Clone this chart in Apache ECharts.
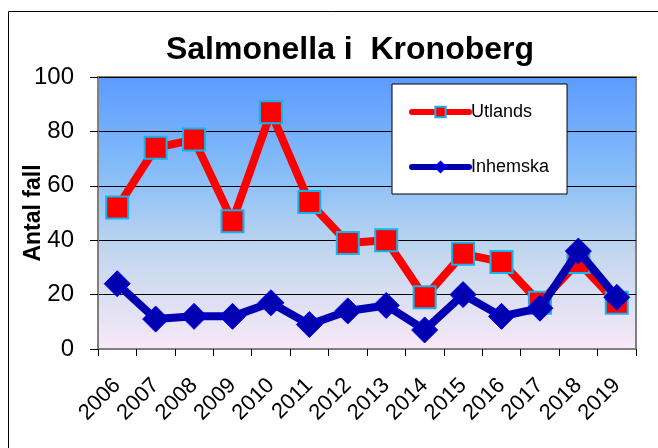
<!DOCTYPE html>
<html>
<head>
<meta charset="utf-8">
<script src="https://cdn.jsdelivr.net/npm/echarts@6.0.0/dist/echarts.min.js"></script>
<style>
  html, body { margin: 0; padding: 0; background: #fff; }
  #chart { width: 658px; height: 448px; }
</style>
</head>
<body>
<div id="chart"></div>
<script>
const years = ["2006", "2007", "2008", "2009", "2010", "2011", "2012", "2013", "2014", "2015", "2016", "2017", "2018", "2019"]
const utlands = [52, 74, 77, 47, 87, 54, 39, 40, 19, 35, 32, 17, 32, 17]
const inhemska = [24, 11, 12, 12, 17, 9, 14, 16, 7, 20, 12, 15, 36, 19]

const FONT = '"Liberation Sans", Arial, sans-serif'

const myChart = echarts.init(document.getElementById("chart"))

const option = {
    animation: false,
    title: {
        text: "Salmonella i  Kronoberg",
        left: 345,
        textAlign: "center",
        top: 29,
        textStyle: { fontFamily: FONT, fontSize: 32, fontWeight: "bold", color: "#000" }
    },
    // рамка вокруг всей диаграммы
    graphic: [{
        type: "rect",
        shape: { x: 8.5, y: 11.5, width: 660, height: 450 },
        style: { fill: "none", stroke: "#000", lineWidth: 1 },
        silent: true
    }],
    legend: {
        orient: "vertical",
        left: 392,
        top: 84,
        padding: [19, 18, 18, 17],
        itemGap: 37,
        itemWidth: 57,
        itemHeight: 13,
        backgroundColor: "#fff",
        borderColor: "#000",
        borderWidth: 1,
        lineStyle: { width: 6, cap: "round" },
        textStyle: { fontFamily: FONT, fontSize: 18, color: "#000", padding: [0, 0, 0, -3] },
        data: ["Utlands", "Inhemska"]
    },
    grid: {
        left: 98,
        right: 22,
        top: 77,
        bottom: 99,
        outerBoundsMode: "none",
        containLabel: false,
        show: true,
        borderColor: "#808080",
        borderWidth: 2,
        backgroundColor: new echarts.graphic.LinearGradient(0, 0, 0, 1, [
            { offset: 0, color: "#5B9BFF" },
            { offset: 0.35, color: "#86BDF8" },
            { offset: 0.65, color: "#C3D7EE" },
            { offset: 1, color: "#F8E9F7" }
        ])
    },
    xAxis: {
        type: "category",
        data: years,
        boundaryGap: true,
        axisLine: { lineStyle: { color: "#808080", width: 2 } },
        axisTick: { show: true, length: 7, inside: false, lineStyle: { color: "#000" } },
        axisLabel: {
            rotate: 45,
            interval: 0,
            margin: 33,
            fontFamily: FONT,
            fontSize: 22,
            color: "#000"
        }
    },
    yAxis: {
        type: "value",
        min: 0,
        max: 100,
        interval: 20,
        name: "Antal fall",
        nameLocation: "middle",
        nameGap: 53,
        nameMoveOverlap: false,
        nameTextStyle: { fontFamily: FONT, fontSize: 23, fontWeight: "bold", color: "#000" },
        axisLine: { show: true, lineStyle: { color: "#808080", width: 2 } },
        axisTick: { show: true, length: 8, lineStyle: { color: "#000" } },
        splitLine: { lineStyle: { color: "#000", width: 1 } },
        axisLabel: {
            margin: 24,
            fontFamily: FONT,
            fontSize: 24,
            color: "#000"
        }
    },
    series: [
        {
            name: "Utlands",
            type: "line",
            data: utlands,
            symbol: "rect",
            symbolSize: 22,
            lineStyle: { color: "#FF0000", width: 8 },
            itemStyle: { color: "#FF0000", borderColor: "#12B4EE", borderWidth: 2 },
            z: 2
        },
        {
            name: "Inhemska",
            type: "line",
            data: inhemska,
            symbol: "diamond",
            symbolSize: 26,
            lineStyle: { color: "#0000B0", width: 8 },
            itemStyle: { color: "#0000B0", borderColor: "#0000FF", borderWidth: 1 },
            z: 3
        }
    ]
}

myChart.setOption(option)
</script>
</body>
</html>
